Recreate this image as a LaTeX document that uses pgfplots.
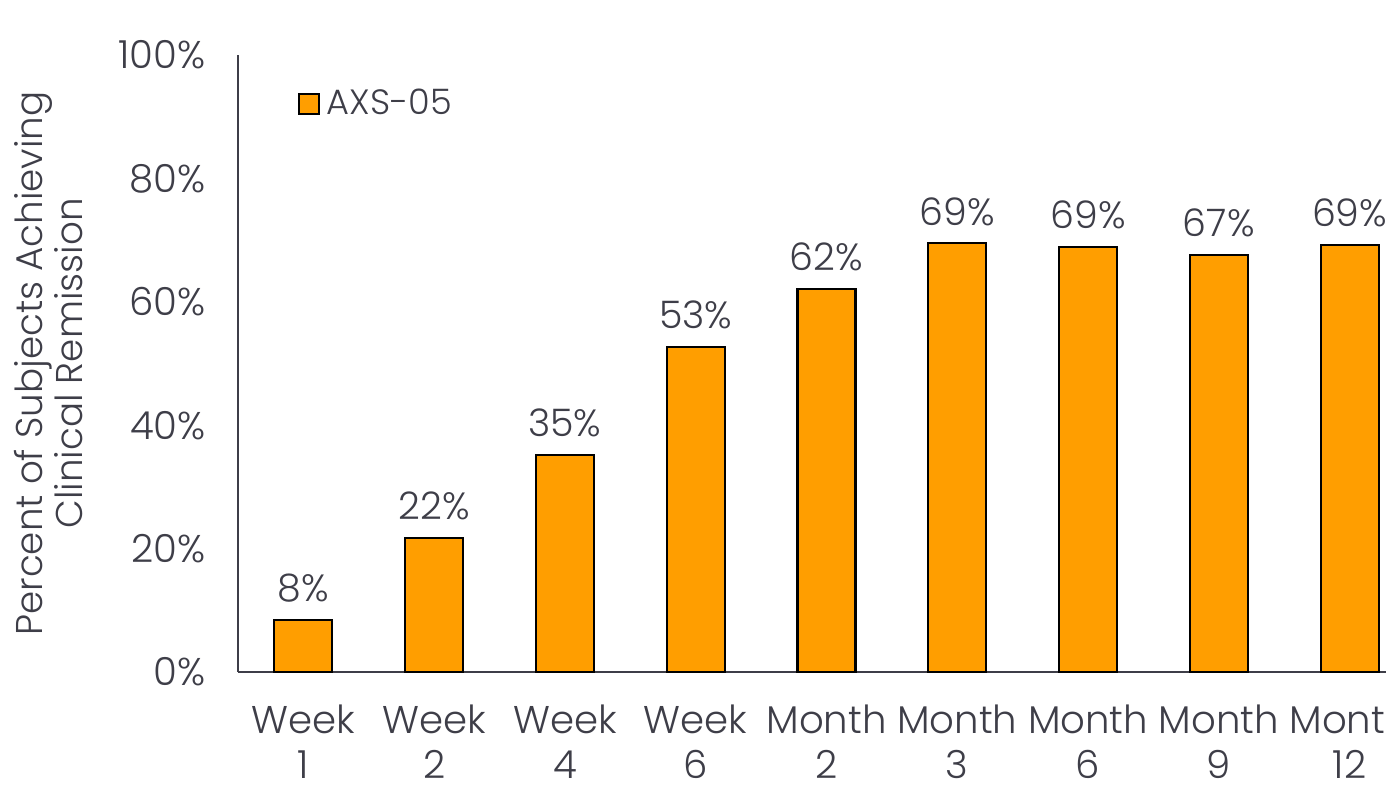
\documentclass[border=0pt]{standalone}
\usepackage{pgfplots}
\pgfplotsset{compat=1.18}
\usepackage{pgfplotstable}
\usepackage{fontspec}
\setmainfont{Poppins}[UprightFont=* Light]
\definecolor{barorange}{RGB}{255,158,0}
\definecolor{txt}{RGB}{62,62,72}
\pgfplotstableread{
x val lab
0 8.4 8
1 21.7 22
2 35.2 35
3 52.7 53
4 62.1 62
5 69.5 69
6 68.9 69
7 67.6 67
8 69.2 69
}\data
\begin{document}
\begin{tikzpicture}
\begin{axis}[
  at={(2.38cm,1.27cm)}, anchor=south west, scale only axis,
  width=11.77cm, height=6.17cm,
  xmin=-0.5, xmax=8.5, ymin=0, ymax=100,
  axis x line=bottom, axis y line=left,
  axis line style={txt, line width=0.6pt, -},
  major tick length=0pt,
  ytick={0,20,40,60,80,100},
  yticklabel={\pgfmathprintnumber{\tick}\%},
  /pgf/number format/assume math mode=true,
  yticklabel style={font=\fontsize{11}{12}\selectfont, text=txt, xshift=-0.2cm},
  xtick={0,...,8},
  xticklabels={{Week\\1},{Week\\2},{Week\\4},{Week\\6},{Month\\2},{Month\\3},{Month\\6},{Month\\9},{Month\\12}},
  xticklabel style={align=center, font=\fontsize{11}{12.8}\selectfont, text=txt, yshift=-0.2cm},
  ylabel={Percent of Subjects Achieving\\Clinical Remission},
  ylabel style={align=center, at={(axis description cs:-0.1215,0.5)}, anchor=south, font=\fontsize{10.6}{11.4}\selectfont, text=txt},
  ybar, bar width=0.58cm, bar shift=0pt,
  nodes near coords={\pgfplotspointmeta\%},
  point meta=explicit symbolic,
  every node near coord/.append style={font=\fontsize{10.8}{12}\selectfont, text=txt, yshift=0.05cm},
  legend style={at={(axis description cs:0.05,0.92)}, anchor=west, draw=none, fill=none, inner sep=0pt,
    font=\fontsize{10}{12}\selectfont, text=txt},
  legend image code/.code={\draw[#1] (0cm,-0.1cm) rectangle (0.2cm,0.1cm);},
]
\addplot[fill=barorange, draw=black, line width=0.6pt] table[x=x, y=val, meta=lab] {\data};
\addlegendentry{AXS-05}
\end{axis}
\pgfresetboundingbox
\path[use as bounding box] (0,0) rectangle (13.86cm,7.99cm);
\end{tikzpicture}
\end{document}
